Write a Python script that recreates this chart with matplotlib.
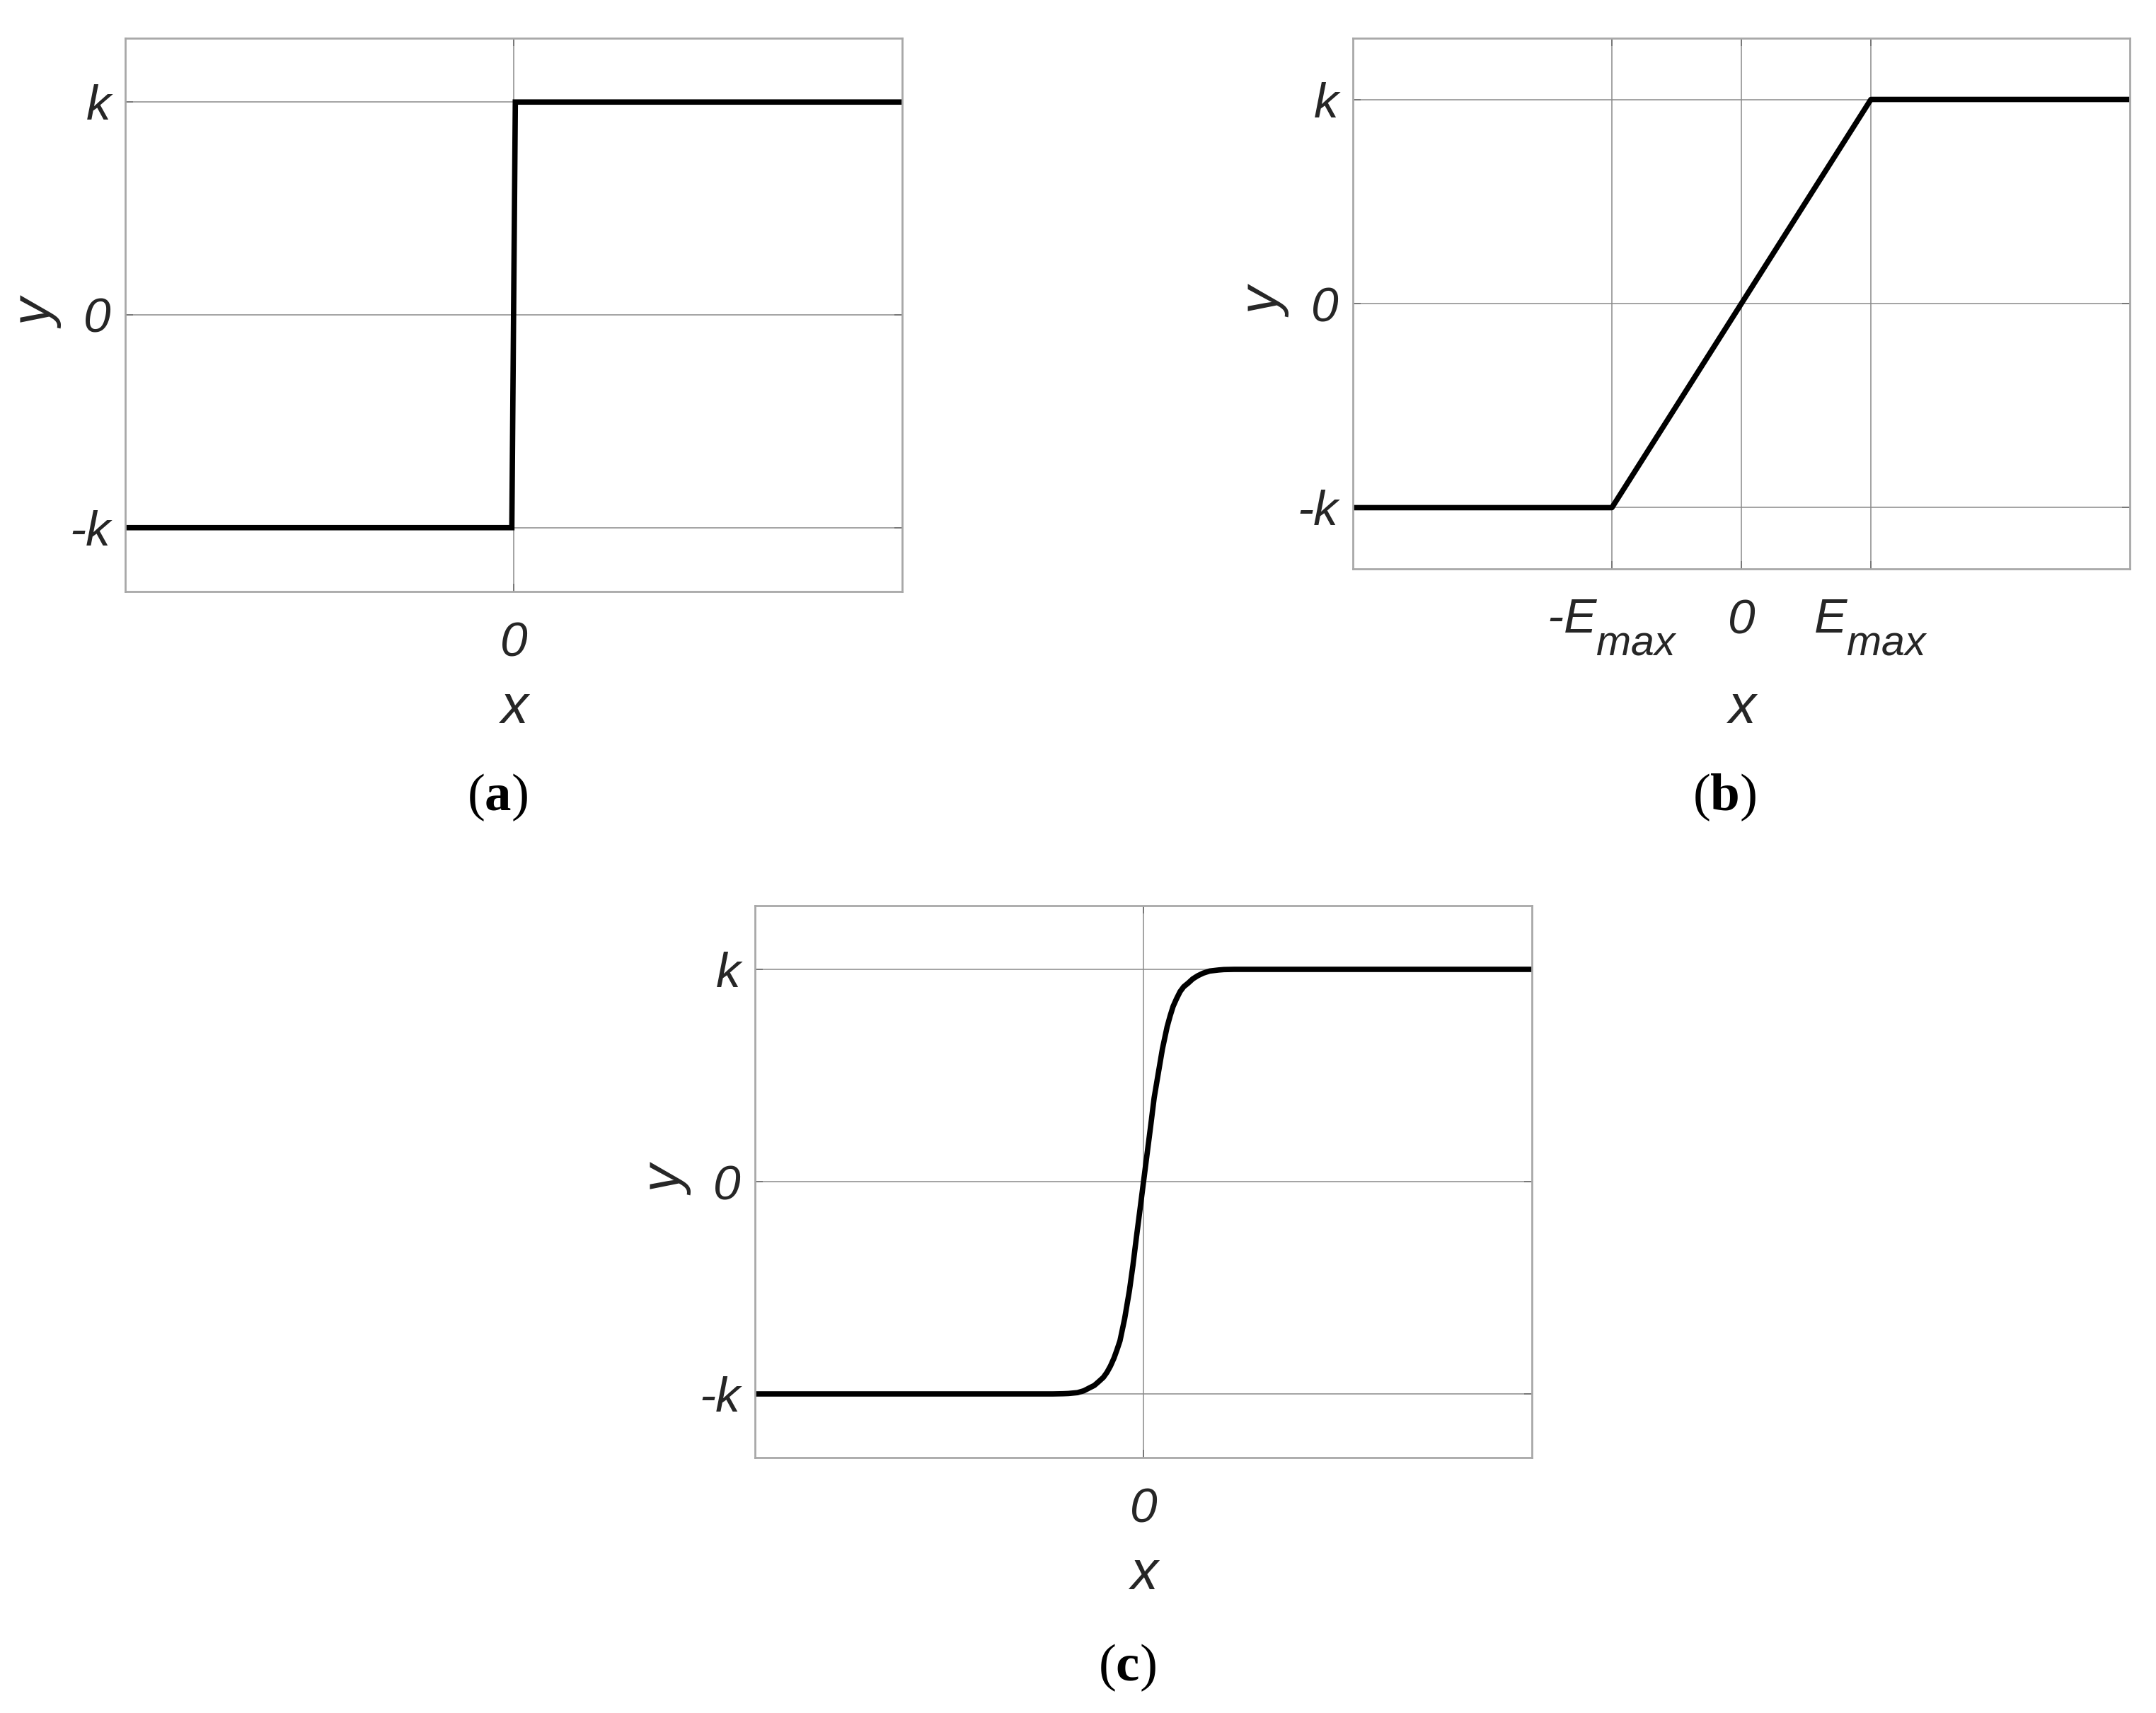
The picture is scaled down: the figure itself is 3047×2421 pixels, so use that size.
import matplotlib
matplotlib.use('Agg')
import matplotlib.pyplot as plt
import matplotlib._mathtext as mathtext_mod

plt.rcParams['font.family'] = ['Liberation Sans', 'DejaVu Sans']
plt.rcParams['mathtext.fontset'] = 'custom'
plt.rcParams['mathtext.it'] = 'Liberation Sans:italic'
plt.rcParams['mathtext.rm'] = 'Liberation Sans'
plt.rcParams['mathtext.bf'] = 'Liberation Serif:bold'
# subscripts in the original are big and sit low, like MATLAB's tex labels
mathtext_mod.SHRINK_FACTOR = 0.85
mathtext_mod.FontConstantsBase.sub1 = 0.9
mathtext_mod.FontConstantsBase.sub2 = 0.9

# (a) relay / sign function
relay_x = [-3.0, -0.015, 0.012, 3.0]
relay_y = [-1.0, -1.0, 1.0, 1.0]

# (b) saturation
sat_x = [-3.0, -1.0, 1.0, 3.0]
sat_y = [-1.0, -1.0, 1.0, 1.0]

# (c) sigmoid, points
sig_x = [-3.0, -0.700, -0.620, -0.580, -0.510, -0.460, -0.419, -0.380, -0.346, -0.310,
         -0.282, -0.255, -0.228, -0.205, -0.182, -0.146, -0.109, -0.082, -0.055, -0.027,
         0.0, 0.027, 0.055, 0.082, 0.109, 0.146, 0.182, 0.205, 0.228, 0.255,
         0.282, 0.310, 0.346, 0.380, 0.419, 0.460, 0.510, 0.580, 0.620, 0.700, 3.0]
sig_y = [-1.0, -1.0, -0.999, -0.998, -0.994, -0.985, -0.972, -0.960, -0.942, -0.922,
         -0.898, -0.868, -0.831, -0.792, -0.750, -0.646, -0.513, -0.395, -0.262, -0.129,
         0.0, 0.129, 0.262, 0.395, 0.493, 0.626, 0.729, 0.780, 0.825, 0.862,
         0.895, 0.918, 0.936, 0.955, 0.970, 0.982, 0.992, 0.997, 0.999, 1.0, 1.0]

y_ticks = [-1, 0, 1]
y_labels = ['-k', '0', 'k']
xt_a = [0]
xl_a = ['0']
xt_b = [-1, 0, 1]
xl_b = ['-$E_{max}$', '0', '$E_{max}$']

tick_fs = 50
label_fs = 56
grid_col = '#8a8a8a'
spine_col = '#a8a8a8'
text_col = '#262626'


def style_axes(ax, xticks, xlabels, xpad):
    ax.set_xlim(-3, 3)
    ax.set_ylim(-1.3, 1.3)
    ax.set_xticks(xticks)
    ax.set_xticklabels(xlabels, fontstyle='italic')
    ax.set_yticks(y_ticks)
    ax.set_yticklabels(y_labels, fontstyle='italic')
    ax.tick_params(axis='both', direction='in', length=8, width=1.2, colors='#707070',
                   labelcolor=text_col, labelsize=tick_fs, top=True, right=True)
    ax.tick_params(axis='x', pad=30)
    ax.tick_params(axis='y', pad=15)
    ax.grid(True, color=grid_col, linewidth=1.1)
    ax.set_axisbelow(True)
    for s in ax.spines.values():
        s.set_color(spine_col)
        s.set_linewidth(2.0)
    ax.set_xlabel('x', fontstyle='italic', fontsize=label_fs, color=text_col, labelpad=xpad)
    ax.set_ylabel('y', fontstyle='italic', fontsize=label_fs, color=text_col, labelpad=5)


fig = plt.figure(figsize=(30.47, 24.21), dpi=100)

ax_a = fig.add_axes([0.0581, 0.6547, 0.3604, 0.3230])
ax_a.plot(relay_x, relay_y, color='black', linewidth=5.5, solid_joinstyle='miter')
style_axes(ax_a, xt_a, xl_a, 16.5)

ax_b = fig.add_axes([0.6275, 0.6679, 0.3604, 0.3098])
ax_b.plot(sat_x, sat_y, color='black', linewidth=5.5)
style_axes(ax_b, xt_b, xl_b, 26)

ax_c = fig.add_axes([0.3502, 0.1491, 0.3604, 0.3222])
ax_c.plot(sig_x, sig_y, color='black', linewidth=5.5, solid_joinstyle='round')
style_axes(ax_c, xt_a, xl_a, 16.5)

for lbl, px, py in [('a', 0.2307, 0.5345), ('b', 0.7998, 0.5345), ('c', 0.5228, 0.0264)]:
    fig.text(px, py, '($\\mathbf{' + lbl + '}$)', family='Liberation Serif', fontsize=54,
             ha='center', va='center', color='black')

fig.savefig('out.png', dpi=100)
